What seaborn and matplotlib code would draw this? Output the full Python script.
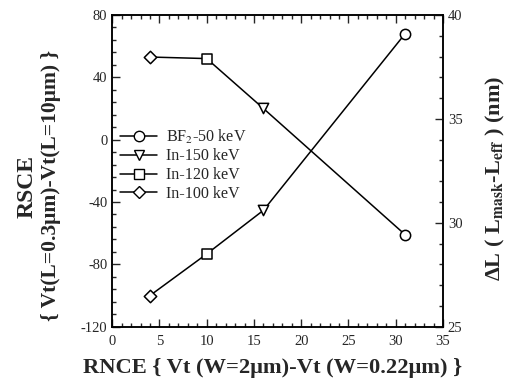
import matplotlib
matplotlib.use("Agg")
import matplotlib.pyplot as plt
from matplotlib.lines import Line2D
from matplotlib.ticker import MultipleLocator
import pandas as pd
import seaborn as sns

# data
rnce = [4, 10, 16, 31]
implants = ["In-100 keV", "In-120 keV", "In-150 keV", "BF$_2$-50 keV"]
rsce = [53, 52, 20, -61]            # left axis
delta_l = [26.5, 28.5, 30.6, 39.1]  # right axis

markers = {"BF$_2$-50 keV": "o", "In-150 keV": "v", "In-120 keV": "s", "In-100 keV": "D"}
legend_order = ["BF$_2$-50 keV", "In-150 keV", "In-120 keV", "In-100 keV"]

sns.set_theme(style="ticks")
plt.rcParams["font.family"] = ["Liberation Serif", "DejaVu Serif"]
plt.rcParams["mathtext.fontset"] = "stix"
plt.rcParams["axes.unicode_minus"] = False
plt.rcParams["xtick.direction"] = "in"
plt.rcParams["ytick.direction"] = "in"

df = pd.DataFrame({"RNCE": rnce, "implant": implants, "RSCE": rsce, "dL": delta_l})

fig = plt.figure(figsize=(5.1, 3.88), dpi=100)
ax = fig.add_axes([0.22, 0.158, 0.6486, 0.8035])
ax2 = ax.twinx()

msizes = {"o": 55, "v": 55, "s": 55, "D": 40}


def draw(axis, ycol):
    sns.lineplot(data=df, x="RNCE", y=ycol, color="black", lw=1.1, ax=axis, legend=False)
    for _, r in df.iterrows():
        m = markers[r["implant"]]
        sns.scatterplot(x=[r["RNCE"]], y=[r[ycol]], marker=m, s=msizes[m], color="white",
                        edgecolor="black", linewidth=1.1, ax=axis, zorder=5, legend=False)


draw(ax, "RSCE")
draw(ax2, "dL")

ax.set_xlim(0, 35)
ax.set_ylim(-120, 80)
ax2.set_ylim(25, 40)
ax.xaxis.set_major_locator(MultipleLocator(5))
ax.xaxis.set_minor_locator(MultipleLocator(1))
ax.yaxis.set_major_locator(MultipleLocator(40))
ax.yaxis.set_minor_locator(MultipleLocator(8))
ax2.yaxis.set_major_locator(MultipleLocator(5))
ax2.yaxis.set_minor_locator(MultipleLocator(1))

ax.tick_params(which="both", top=True, direction="in", labelsize=10.5, width=1)
ax.tick_params(which="major", length=6)
ax.tick_params(which="minor", length=3)
ax2.tick_params(which="both", direction="in", labelsize=10.5, width=1)
ax2.tick_params(which="major", length=6)
ax2.tick_params(which="minor", length=3)
ax.tick_params(axis="x", pad=6)

for a in (ax, ax2):
    for s in a.spines.values():
        s.set_linewidth(1.1)
        s.set_color("black")

# labels placed as figure text to mimic the original layout
ax.set_xlabel("")
ax.set_ylabel("")
ax2.set_ylabel("")
fig.text(0.535, 0.052, "RNCE { Vt (W=2\u03bcm)-Vt (W=0.22\u03bcm) }", fontsize=16.2,
         fontweight="bold", ha="center", va="center")
fig.text(0.972, 0.54, "\u0394L ( L$_{\\mathbf{mask}}$-L$_{\\mathbf{eff}}$ ) (nm)", rotation=90,
         fontsize=16, fontweight="bold", ha="center", va="center")
fig.text(0.054, 0.52, "RSCE", rotation=90, fontsize=17, fontweight="bold", ha="center", va="center")
fig.text(0.1, 0.523, "{ Vt(L=0.3\u03bcm)-Vt(L=10\u03bcm) }", rotation=90, fontsize=15.5,
         fontweight="bold", ha="center", va="center")

handles = [Line2D([0], [0], color="black", lw=1.1, marker=markers[k], markersize=7.5 if markers[k] != "D" else 6.5,
                  markerfacecolor="white", markeredgecolor="black", label=k) for k in legend_order]
ax.legend(handles=handles, loc="upper left", bbox_to_anchor=(-0.02, 0.685), frameon=False,
          fontsize=11.6, handlelength=2.3, labelspacing=0.17, handletextpad=0.55)

fig.savefig("out.png", dpi=100)
